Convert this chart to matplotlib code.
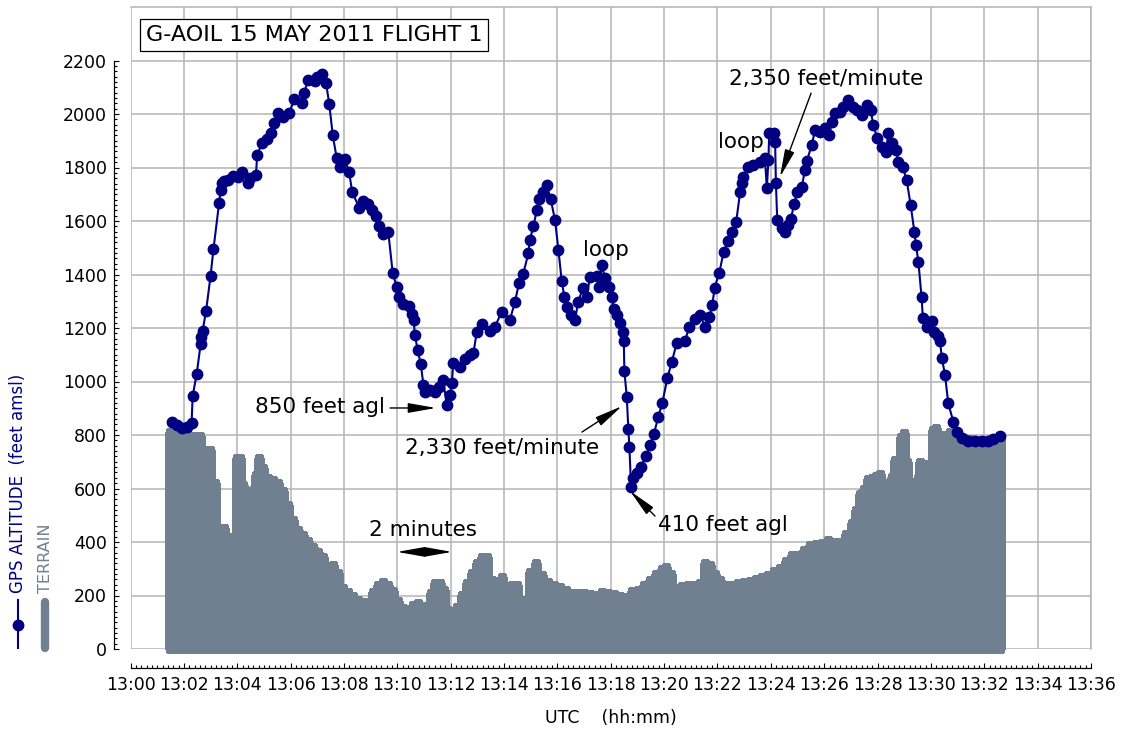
import numpy as np
import matplotlib
matplotlib.use("Agg")
import matplotlib.pyplot as plt
from matplotlib.lines import Line2D
from matplotlib.ticker import MultipleLocator, FixedLocator

# time in minutes after 13:00 UTC, altitude in feet amsl
gps_t = [1.54, 1.73, 1.92, 2.11, 2.29, 2.33, 2.48, 2.63, 2.66, 2.70,
         2.83, 3.00, 3.11, 3.32, 3.38, 3.42, 3.50, 3.67, 3.85, 4.04,
         4.17, 4.42, 4.48, 4.70, 4.75, 4.92, 5.11, 5.26, 5.38, 5.54,
         5.73, 5.95, 6.13, 6.42, 6.50, 6.66, 6.92, 6.98, 7.17, 7.33,
         7.45, 7.58, 7.73, 7.85, 8.04, 8.19, 8.31, 8.58, 8.73, 8.91,
         9.04, 9.20, 9.33, 9.48, 9.66, 9.83, 9.98, 10.08, 10.23, 10.44,
         10.55, 10.61, 10.66, 10.76, 10.88, 10.98, 11.04, 11.23, 11.41, 11.57,
         11.72, 11.85, 11.98, 12.04, 12.10, 12.35, 12.54, 12.73, 12.85, 12.98,
         13.16, 13.48, 13.66, 13.91, 14.22, 14.41, 14.56, 14.72, 14.91, 14.97,
         15.10, 15.23, 15.32, 15.45, 15.60, 15.75, 15.91, 16.04, 16.16, 16.26,
         16.35, 16.50, 16.66, 16.78, 16.95, 17.10, 17.22, 17.47, 17.57, 17.66,
         17.79, 17.95, 18.04, 18.12, 18.22, 18.35, 18.47, 18.49, 18.51, 18.60,
         18.66, 18.70, 18.76, 18.85, 18.97, 19.12, 19.32, 19.47, 19.62, 19.78,
         19.93, 20.12, 20.29, 20.47, 20.78, 20.95, 21.16, 21.35, 21.53, 21.69,
         21.81, 21.89, 22.07, 22.23, 22.41, 22.55, 22.70, 22.85, 22.91, 22.97,
         23.16, 23.34, 23.59, 23.78, 23.85, 23.91, 23.94, 24.12, 24.16, 24.19,
         24.24, 24.41, 24.53, 24.66, 24.75, 24.87, 24.99, 25.16, 25.28, 25.35,
         25.53, 25.66, 25.84, 26.03, 26.19, 26.28, 26.41, 26.59, 26.72, 26.90,
         27.07, 27.22, 27.41, 27.59, 27.74, 27.84, 27.99, 28.16, 28.32, 28.40,
         28.53, 28.69, 28.78, 28.94, 29.09, 29.24, 29.38, 29.44, 29.53, 29.65,
         29.70, 29.85, 30.03, 30.12, 30.28, 30.34, 30.41, 30.53, 30.65, 30.84,
         30.99, 31.15, 31.40, 31.65, 31.90, 32.15, 32.34, 32.59]
gps_alt = [850, 837, 826, 831, 846, 946, 1028, 1140, 1166, 1189,
           1262, 1394, 1495, 1666, 1716, 1741, 1751, 1753, 1768, 1764,
           1784, 1743, 1759, 1772, 1847, 1890, 1905, 1930, 1967, 2002,
           1990, 2002, 2055, 2042, 2079, 2127, 2124, 2139, 2149, 2115,
           2037, 1921, 1834, 1803, 1831, 1784, 1709, 1647, 1676, 1663,
           1641, 1619, 1581, 1551, 1560, 1404, 1353, 1317, 1290, 1282,
           1252, 1230, 1174, 1118, 1065, 987, 962, 968, 962, 980,
           1006, 912, 949, 993, 1068, 1054, 1084, 1099, 1105, 1186,
           1215, 1189, 1204, 1261, 1230, 1298, 1367, 1402, 1479, 1529,
           1581, 1641, 1681, 1709, 1734, 1681, 1604, 1491, 1377, 1317,
           1280, 1248, 1230, 1298, 1348, 1317, 1389, 1394, 1352, 1435,
           1386, 1354, 1317, 1270, 1248, 1217, 1186, 1152, 1040, 943,
           821, 754, 607, 638, 657, 681, 721, 763, 804, 868,
           918, 1012, 1074, 1143, 1152, 1205, 1234, 1248, 1205, 1242,
           1286, 1351, 1407, 1485, 1525, 1560, 1596, 1709, 1743, 1765,
           1803, 1809, 1822, 1834, 1722, 1828, 1930, 1928, 1896, 1743,
           1604, 1573, 1560, 1585, 1606, 1663, 1709, 1728, 1791, 1824,
           1884, 1940, 1934, 1946, 1921, 1971, 2002, 2008, 2027, 2052,
           2027, 2015, 1996, 2033, 2015, 1959, 1909, 1878, 1859, 1930,
           1890, 1865, 1822, 1803, 1753, 1660, 1560, 1510, 1448, 1315,
           1236, 1205, 1228, 1186, 1170, 1152, 1088, 1024, 918, 850,
           812, 788, 779, 779, 779, 779, 785, 796]

terrain_t = [1.48, 1.71, 1.93, 2.16, 2.38, 2.60, 2.75, 2.98, 3.17, 3.32,
             3.50, 3.69, 3.84, 3.99, 4.10, 4.22, 4.40, 4.59, 4.70, 4.82,
             4.97, 5.15, 5.34, 5.53, 5.72, 5.90, 6.09, 6.28, 6.47, 6.65,
             6.84, 7.03, 7.22, 7.40, 7.59, 7.78, 7.96, 8.15, 8.34, 8.53,
             8.71, 8.90, 9.09, 9.28, 9.46, 9.65, 9.84, 10.03, 10.21, 10.40,
             10.59, 10.78, 10.96, 11.11, 11.26, 11.41, 11.60, 11.75, 11.90, 12.05,
             12.24, 12.42, 12.61, 12.80, 12.99, 13.17, 13.36, 13.55, 13.74, 13.92,
             14.11, 14.30, 14.49, 14.64, 14.79, 14.97, 15.20, 15.42, 15.65, 15.87,
             16.10, 16.32, 16.55, 16.77, 17.00, 17.22, 17.45, 17.67, 17.90, 18.12,
             18.35, 18.57, 18.80, 19.02, 19.25, 19.47, 19.70, 19.92, 20.07, 20.26,
             20.45, 20.67, 20.90, 21.12, 21.35, 21.53, 21.72, 21.91, 22.10, 22.32,
             22.55, 22.77, 22.99, 23.22, 23.44, 23.67, 23.89, 24.12, 24.34, 24.57,
             24.79, 25.02, 25.24, 25.47, 25.69, 25.92, 26.14, 26.37, 26.59, 26.82,
             27.04, 27.19, 27.34, 27.49, 27.64, 27.79, 27.94, 28.09, 28.24, 28.39,
             28.54, 28.65, 28.77, 28.88, 28.99, 29.10, 29.22, 29.29, 29.40, 29.52,
             29.59, 29.70, 29.82, 29.93, 30.08, 30.19, 30.30, 30.42, 30.57, 30.72,
             30.87, 31.02, 31.24, 31.47, 31.69, 31.92, 32.14, 32.36, 32.59]
terrain_alt = [811, 805, 800, 800, 798, 795, 744, 744, 620, 452,
               452, 419, 419, 714, 714, 613, 407, 594, 650, 714,
               677, 639, 630, 620, 590, 538, 482, 445, 426, 405,
               380, 363, 344, 303, 314, 284, 228, 212, 200, 183,
               176, 176, 213, 240, 250, 240, 215, 180, 153, 135,
               165, 172, 160, 146, 209, 247, 247, 220, 146, 127,
               157, 202, 247, 284, 321, 344, 344, 258, 250, 269,
               221, 239, 239, 176, 183, 288, 321, 277, 250, 239,
               230, 222, 209, 209, 209, 205, 202, 213, 209, 205,
               200, 194, 215, 222, 240, 258, 280, 300, 306, 280,
               228, 235, 240, 240, 245, 321, 314, 280, 258, 240,
               240, 245, 250, 255, 262, 270, 277, 290, 303, 330,
               350, 352, 370, 389, 392, 398, 407, 400, 400, 430,
               470, 520, 580, 600, 635, 640, 647, 654, 620, 606,
               643, 706, 650, 792, 807, 700, 594, 494, 575, 640,
               699, 690, 676, 690, 819, 826, 800, 789, 800, 811,
               811, 800, 790, 785, 780, 778, 778, 780, 785]

x_ticks = list(range(0, 37, 2))
x_labels = ["13:%02d" % m for m in x_ticks]
y_ticks = list(range(0, 2201, 200))

NAVY = "#000080"
SLATE = "#708090"
GRID = "#b4b4b4"
W, H = 1122, 731

fig = plt.figure(figsize=(W / 100, H / 100), dpi=100)
ax = fig.add_axes([130.5 / W, (H - 649) / H, (1091 - 130.5) / W, (649 - 7) / H])
ax.set_xlim(0, 36)
ax.set_ylim(0, 2400)

# terrain: solid base under thick round-capped sticks
ax.fill_between(terrain_t, 0, terrain_alt, step="mid", color=SLATE, lw=0, zorder=1.9)
ax.vlines(terrain_t, 0, terrain_alt, colors=SLATE, linewidth=6.6,
          capstyle="round", clip_on=False, zorder=2, antialiased=False)
ax.plot(gps_t, gps_alt, "-o", color=NAVY, lw=1.5, ms=7.5, zorder=3)

ax.set_xticks(x_ticks)
ax.set_xticklabels(x_labels)
ax.set_yticks(y_ticks)
ax.xaxis.set_minor_locator(MultipleLocator(0.2))
ax.yaxis.set_minor_locator(FixedLocator(np.arange(0, 2201, 20)))
ax.tick_params(which="both", direction="in", top=False, right=False, labelsize=12.5)
ax.tick_params(which="major", length=3.8, width=0.8)
ax.tick_params(which="minor", length=1.9, width=0.8)
ax.tick_params(axis="x", pad=6)
ax.tick_params(axis="y", pad=5)

ax.set_axisbelow(True)
ax.grid(True, which="major", color=GRID, lw=1.1)
for s in ["top", "right"]:
    ax.spines[s].set_color(GRID)
    ax.spines[s].set_linewidth(1.1)
ax.spines["left"].set_position(("outward", 12))
ax.spines["left"].set_bounds(0, 2200)
ax.spines["bottom"].set_position(("outward", 13.5))
ax.spines["bottom"].set_bounds(0, 36)
for s in ["left", "bottom"]:
    ax.spines[s].set_linewidth(0.9)

fig.text(611 / W, 1 - 718 / H, "UTC    (hh:mm)", ha="center", va="center", fontsize=12.5)

# title box
fig.text(146 / W, 1 - 35 / H, "G-AOIL 15 MAY 2011 FLIGHT 1", ha="left", va="center",
         fontsize=16, bbox=dict(boxstyle="square,pad=0.25", fc="white", ec="black", lw=0.9))

# legend on the left
fig.add_artist(Line2D([18 / W, 18 / W], [1 - 600 / H, 1 - 648 / H], color=NAVY, lw=1.5))
fig.add_artist(Line2D([18 / W], [1 - 625 / H], marker="o", color=NAVY, ms=7.5))
fig.text(18.5 / W, 1 - 593 / H, "GPS ALTITUDE  (feet amsl)", rotation=90, ha="center",
         va="bottom", color=NAVY, fontsize=12)
fig.add_artist(Line2D([45 / W, 45 / W], [1 - 602 / H, 1 - 648 / H], color=SLATE, lw=6,
                      solid_capstyle="round"))
fig.text(45 / W, 1 - 593 / H, "TERRAIN", rotation=90, ha="center", va="bottom",
         color=SLATE, fontsize=11.5)

# annotations
arrow = dict(arrowstyle="-|>,head_length=1.7,head_width=0.3", color="black", lw=1,
             shrinkA=0, shrinkB=0, mutation_scale=10)
dbl = dict(arrowstyle="<|-|>,head_length=1.7,head_width=0.3", color="black", lw=1,
           shrinkA=0, shrinkB=0, mutation_scale=10)
fs = 15.5
ax.text(9.55, 905, "850 feet agl", ha="right", va="center", fontsize=fs)
ax.annotate("", xy=(11.45, 901), xytext=(9.73, 901), arrowprops=arrow)
ax.text(13.93, 751, "2,330 feet/minute", ha="center", va="center", fontsize=fs)
ax.annotate("", xy=(18.42, 908), xytext=(16.92, 811), arrowprops=arrow)
ax.text(19.77, 463, "410 feet agl", ha="left", va="center", fontsize=fs)
ax.annotate("", xy=(18.72, 591), xytext=(19.66, 497), arrowprops=arrow)
ax.text(17.82, 1491, "loop", ha="center", va="center", fontsize=fs)
ax.text(22.88, 1895, "loop", ha="center", va="center", fontsize=fs)
ax.text(26.09, 2131, "2,350 feet/minute", ha="center", va="center", fontsize=fs)
ax.annotate("", xy=(24.34, 1764), xytext=(25.51, 2078), arrowprops=arrow)
ax.text(10.98, 445, "2 minutes", ha="center", va="center", fontsize=fs)
ax.annotate("", xy=(12.05, 363), xytext=(9.99, 363), arrowprops=dbl)

fig.savefig("out.png", dpi=100)
